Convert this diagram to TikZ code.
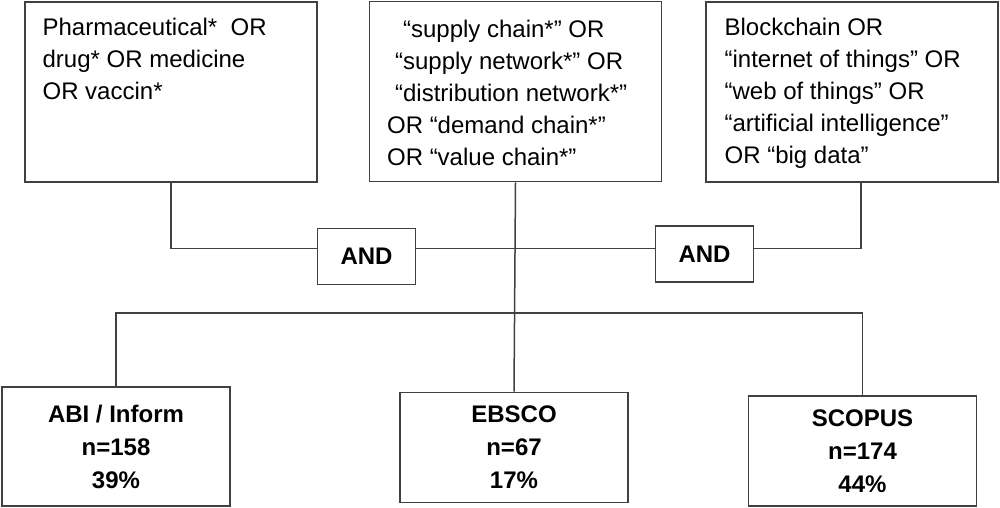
\documentclass[tikz,border=0pt]{standalone}
\usepackage{fontspec}
\setmainfont{Liberation Sans}
\usetikzlibrary{positioning}
\definecolor{linegray}{gray}{0.25}

\tikzset{
  querybox/.style={draw=linegray,line width=0.8pt,minimum width=146pt,minimum height=90pt,inner sep=0pt},
  querytext/.style={inner sep=0pt,align=left,font=\fontsize{12}{16}\selectfont},
  andbox/.style={draw=linegray,line width=0.8pt,minimum width=49pt,minimum height=28pt,font=\fontsize{12}{16}\selectfont\bfseries},
  dbbox/.style={draw=linegray,line width=0.8pt,minimum width=114pt,minimum height=55pt,align=center,font=\fontsize{12}{16.5}\selectfont\bfseries},
  link/.style={draw=linegray,line width=0.75pt}
}

\begin{document}
\begin{tikzpicture}[x=0.5pt,y=-0.5pt]

        \useasboundingbox (0,0) rectangle (1000,508);

        % search term boxes
        \node[querybox] (pharma) at (171,92) {};
        \node[querybox] (supply) at (515.5,91.5) {};
        \node[querybox] (tech) at (852,92) {};

        \node[querytext,below right=8.5pt and 9pt of pharma.north west] (pharmatext)
        {Pharmaceutical*~ OR\\drug* OR medicine\\OR vaccin*};
        \node[querytext,below right=9.5pt and 9pt of supply.north west] (supplytext)
        {\hspace*{8pt}“supply chain*” OR\\\hspace*{4pt}“supply network*” OR\\\hspace*{4pt}“distribution network*”\\OR “demand chain*”\\OR “value chain*”};
        \node[querytext,below right=8.5pt and 9.5pt of tech.north west] (techtext)
        {Blockchain OR\\“internet of things” OR\\“web of things” OR\\“artificial intelligence”\\OR “big data”};

        % operators
        \node[andbox] (and1) at (366.5,256.5) {AND};
        \node[andbox] (and2) at (704.5,254) {AND};

        % databases
        \node[dbbox,minimum height=59.5pt] (abi) at (116,446.5) {ABI / Inform\\n=158\\39\%};
        \node[dbbox] (ebsco) at (514,447.5) {EBSCO\\n=67\\17\%};
        \node[dbbox] (scopus) at (862.5,451) {SCOPUS\\n=174\\44\%};

        \coordinate (andline) at (0,248.5);
        \coordinate (split) at (500,313);

        \draw[link] (pharma.south) |- (and1.west |- andline);
        \draw[link] (and1.east |- andline) -- (and2.west |- andline);
        \draw[link] (and2.east |- andline) -| ([xshift=4.5pt]tech.south);
        \draw[link] (supply.south) -- (ebsco.north);
        \draw[link] (abi.north) |- (split) -| (scopus.north);

      \end{tikzpicture}
\end{document}
